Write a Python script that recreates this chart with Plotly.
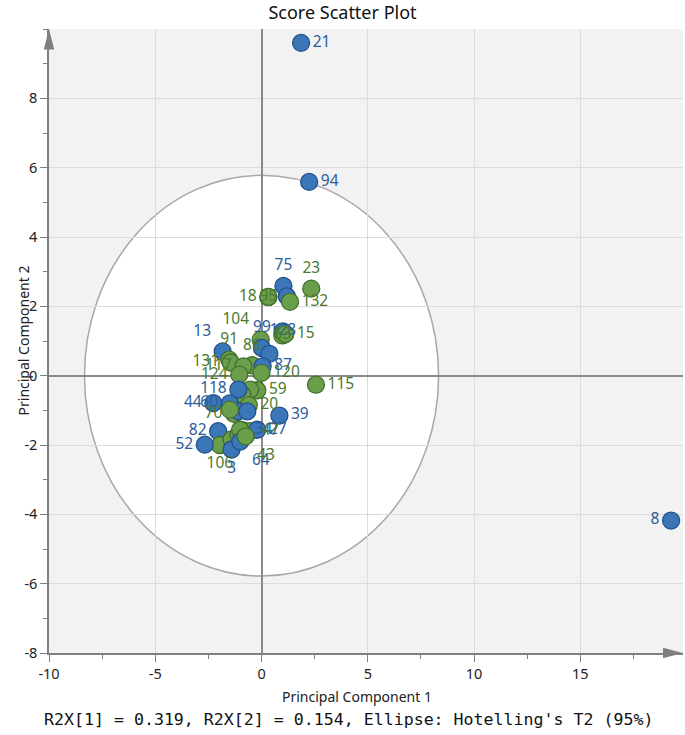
import plotly.graph_objects as go

# ---- data ----
obs_ids = ["21", "94", "8", "75", "23", "58", "132", "18", "95", "104", "128", "63", "15",
           "99", "13", "91", "131", "6", "86", "117", "124", "87", "120", "115",
           "59", "41", "33", "118", "44", "60", "20", "70", "11", "12", "39", "71",
           "34", "47", "27", "82", "106", "52", "35", "36", "37", "3", "64", "43"]
pc1 = [1.86, 2.24, 19.27, 1.03, 2.34, 1.19, 1.34, 0.32, 0.32, -0.04, 1.00, 0.98, 1.12,
       0.02, -1.83, -1.52, -1.45, 0.37, -0.45, -0.85, -1.05, 0.05, 0.00, 2.56,
       -0.20, -0.54, -0.90, -1.09, -2.27, -1.50, -0.60, -1.30, -1.09, -0.67, 0.84, -1.49,
       -0.87, -0.55, -0.20, -2.04, -1.96, -2.67, -1.41, -1.09, -1.01, -1.41, -1.00, -0.75]
pc2 = [9.60, 5.59, -4.18, 2.59, 2.51, 2.29, 2.13, 2.27, 2.27, 1.04, 1.28, 1.16, 1.20,
       0.80, 0.70, 0.46, 0.38, 0.63, 0.30, 0.27, 0.03, 0.27, 0.08, -0.26,
       -0.42, -0.40, -0.55, -0.40, -0.79, -0.80, -0.85, -1.10, -1.03, -1.03, -1.15, -0.98,
       -1.58, -1.60, -1.56, -1.60, -2.00, -1.99, -1.84, -1.70, -1.56, -2.13, -1.90, -1.75]
group = ["A", "A", "A", "A", "B", "A", "B", "B", "B", "B", "A", "B", "B",
         "A", "A", "B", "B", "A", "B", "B", "B", "A", "B", "B",
         "B", "B", "B", "A", "A", "A", "B", "B", "A", "A", "A", "B",
         "A", "B", "A", "A", "B", "A", "B", "B", "B", "A", "A", "B"]

x_ticks = [-10, -5, 0, 5, 10, 15]
y_ticks = [-8, -6, -4, -2, 0, 2, 4, 6, 8]

# labels hidden under other markers in the reference
hidden_labels = {"58", "6", "41", "33", "11", "12", "71", "35", "36", "37"}

# label placement (style)
label_pos = {"8": "middle left", "75": "top center", "23": "top center", "18": "middle left",
             "95": "middle center", "104": "top left", "128": "middle center", "63": "middle center",
             "99": "top center", "13": "top left", "91": "top center", "131": "middle left",
             "86": "top center", "117": "middle left", "124": "middle left", "118": "middle left",
             "44": "middle left", "60": "middle left", "70": "middle left", "82": "middle left",
             "106": "bottom center", "52": "middle left", "3": "bottom center",
             "64": "bottom right", "43": "bottom right"}

fill = {"A": "#3b76b9", "B": "#6b9e4b"}
edge = {"A": "#22508a", "B": "#42702c"}
txtc = {"A": "#2c5d99", "B": "#4b7a2e"}

labels = ["" if i in hidden_labels else i for i in obs_ids]
positions = [label_pos.get(i, "middle right") for i in obs_ids]

fig = go.Figure()
fig.add_trace(go.Scatter(
    x=pc1, y=pc2, mode="markers+text", text=labels, textposition=positions,
    textfont=dict(size=15.5, color=[txtc[g] for g in group], family="Noto Sans"),
    marker=dict(size=17, color=[fill[g] for g in group],
                line=dict(width=1.3, color=[edge[g] for g in group])),
    cliponaxis=False, hoverinfo="skip"))

# Hotelling T2 ellipse (95%)
fig.add_shape(type="circle", xref="x", yref="y", x0=-8.33, x1=8.33, y0=-5.78, y1=5.78,
              fillcolor="white", line=dict(color="#a8a8a8", width=1.5), layer="below")

# axis arrows
fig.add_shape(type="path", xref="paper", yref="paper",
              path="M -0.0082,0.967 L 0,1.0 L 0.0082,0.967 Z",
              fillcolor="#7f7f7f", line=dict(width=0))
fig.add_shape(type="path", xref="paper", yref="paper",
              path="M 0.9685,-0.0085 L 1.0,0 L 0.9685,0.0085 Z",
              fillcolor="#7f7f7f", line=dict(width=0))

axis_common = dict(showgrid=True, gridcolor="#dcdcdc", gridwidth=1,
                   zeroline=True, zerolinecolor="#8a8a8a", zerolinewidth=2,
                   showline=True, linecolor="#7f7f7f", linewidth=1.5,
                   ticks="outside", ticklen=7, tickcolor="#7f7f7f", tickwidth=1,
                   tickfont=dict(size=14.5, color="#222222", family="Noto Sans"))

fig.update_xaxes(range=[-10, 19.83], tickmode="array", tickvals=x_ticks,
                 ticktext=[str(v) for v in x_ticks],
                 minor=dict(ticks="outside", ticklen=4, dtick=2.5, tick0=0,
                            tickcolor="#7f7f7f", showgrid=False),
                 **axis_common)
fig.update_yaxes(range=[-8, 10], tickmode="array", tickvals=y_ticks,
                 ticktext=[str(v) for v in y_ticks],
                 minor=dict(ticks="outside", ticklen=4, dtick=1, tick0=0,
                            tickcolor="#7f7f7f", showgrid=False),
                 **axis_common)

fig.add_annotation(text="Principal Component 1", xref="paper", yref="paper",
                   x=0.486, y=-0.069, showarrow=False, yanchor="middle",
                   font=dict(size=14, color="#222222", family="Noto Sans"))
fig.add_annotation(text="Principal Component 2", xref="paper", yref="paper",
                   x=-0.0584, y=0.5016, showarrow=False, textangle=-90,
                   font=dict(size=14, color="#222222", family="Noto Sans"))
fig.add_annotation(text="R2X[1] = 0.319, R2X[2] = 0.154, Ellipse: Hotelling's T2 (95%)",
                   xref="paper", yref="paper", x=0.473, y=-0.1058, showarrow=False,
                   yanchor="middle",
                   font=dict(size=16.6, color="#111111", family="DejaVu Sans Mono"))

fig.update_layout(
    width=685, height=735,
    margin=dict(l=49, r=2, t=29, b=82),
    plot_bgcolor="#f2f2f2", paper_bgcolor="white",
    showlegend=False,
    title=dict(text="Score Scatter Plot", x=0.5, xref="container", y=0.9823,
               yref="container", yanchor="middle", xanchor="center",
               font=dict(size=18, color="#111111", family="Noto Sans")),
    font=dict(family="Noto Sans"),
)

fig.write_html("out.html", config={"displayModeBar": False},
               post_script="document.body.style.margin='0';document.body.style.overflow='hidden';")
